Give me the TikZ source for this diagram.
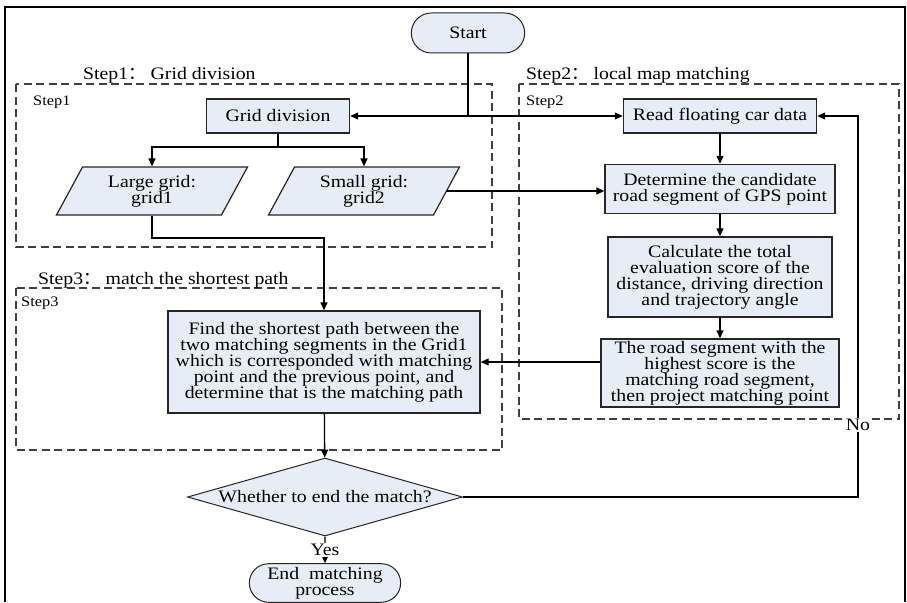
\documentclass[tikz,border=0pt]{standalone}
\usepackage{fontspec}
\setmainfont{Liberation Serif}[FakeStretch=1.13]
\newfontfamily\cjk{Noto Sans CJK SC}
\usetikzlibrary{shapes.geometric,shapes.misc,arrows.meta}
\definecolor{boxfill}{RGB}{231,237,247}
\begin{document}
\begin{tikzpicture}[
x=1pt,y=-1pt,
font=\fontsize{17.5}{16}\selectfont,
every node/.style={align=center},
proc/.style={rectangle,draw=black!85,line width=1.4pt,fill=boxfill,inner sep=2pt},
io/.style={trapezium,trapezium left angle=56,trapezium right angle=124,trapezium stretches body,
  draw=black!85,line width=1.2pt,fill=boxfill,minimum height=48pt,minimum width=191pt},
term/.style={rounded rectangle,draw=black!85,line width=1pt,fill=boxfill},
decide/.style={diamond,aspect=3.5,draw=black!85,line width=1pt,fill=boxfill,inner sep=0pt},
groupbox/.style={dash pattern=on 8pt off 4.5pt,line width=1.1pt,draw=black!75},
flow/.style={line width=1.3pt,-{Triangle[length=8pt,width=7pt]}},
link/.style={line width=1.3pt},
steplabel/.style={anchor=base west,inner sep=0pt},
tag/.style={anchor=base west,inner sep=0pt,font=\fontsize{14.5}{15}\selectfont}
]
\useasboundingbox (0,0) rectangle (907,602);
\draw[line width=2.5pt] (5,602) -- (5,7) -- (905,7) -- (905,602);

\draw[groupbox] (16,84) rectangle (492,247);
\draw[groupbox] (519,84) rectangle (899,419);
\draw[groupbox] (16,288) rectangle (502,450);
\node[steplabel] (lab1) at (83,79) {Step1{\cjk ：} Grid division};
\node[steplabel] (lab2) at (526,79) {Step2{\cjk ：} local map matching};
\node[steplabel] (lab3) at (38,284) {Step3{\cjk ：} match the shortest path};
\node[tag] (tag1) at (33,105) {Step1};
\node[tag] (tag2) at (526,105) {Step2};
\node[tag] (tag3) at (21,306) {Step3};

\node[term,minimum width=120pt,minimum height=40pt] (start) at (468,33) {Start};
\node[proc,minimum width=143pt,minimum height=34pt] (grid) at (278,116) {Grid division};
\node[io] (large) at (152,191) {Large grid:\\grid1};
\node[io] (small) at (364,191) {Small grid:\\grid2};
\node[proc,minimum width=193pt,minimum height=34pt] (read) at (720,116) {Read floating car data};
\node[proc,minimum width=230pt,minimum height=49pt] (cand) at (720,189)
  {Determine the candidate\\road segment of GPS point};
\node[proc,minimum width=224pt,minimum height=80pt] (score) at (720,277)
  {Calculate the total\\evaluation score of the\\distance, driving direction\\and trajectory angle};
\node[proc,minimum width=238pt,minimum height=67pt] (best) at (720,373)
  {The road segment with the\\highest score is the\\matching road segment,\\then project matching point};
\node[proc,minimum width=312pt,minimum height=102pt] (path) at (324,362)
  {Find the shortest path between the\\two matching segments in the Grid1\\which is corresponded with matching\\point and the previous point, and\\determine that is the matching path};
\node[decide,minimum width=275pt,minimum height=78pt] (ask) at (325,497) {Whether to end the match?};
\node[term,minimum width=158pt,minimum height=32pt] (stop) at (325,583) {End\ \ matching\\process};

\coordinate (fork) at (start.south |- grid.east);
\coordinate (split) at (278,147);
\coordinate (elbow) at (152,238);
\coordinate (loop) at (858,497);
\draw[link] (start.south) -- (fork);
\draw[flow] (fork) -- (grid);
\draw[flow] (fork) -- (read);
\draw[link] (grid.south) -- (split);
\draw[flow] (split) -| (large.north);
\draw[flow] (split) -| (small.north);
\draw[flow] (large.south) |- (path.north |- elbow) -- (path.north);
\draw[flow] (small.east) -- (small.east -| cand.west);
\draw[flow] (read) -- (cand);
\draw[flow] (cand) -- (score);
\draw[flow] (score) -- (best);
\draw[flow] (best.west |- path.east) -- (path.east);
\draw[flow] (path) -- (ask);
\draw[flow] (ask) -- node[fill=white,inner sep=1pt] (yes) {Yes} (stop);
\draw[flow] (ask.east) -- (loop) -- (loop |- read.east) -- (read.east);
\node[fill=white,inner sep=1pt] (no) at (858,425) {No};
\end{tikzpicture}
\end{document}
